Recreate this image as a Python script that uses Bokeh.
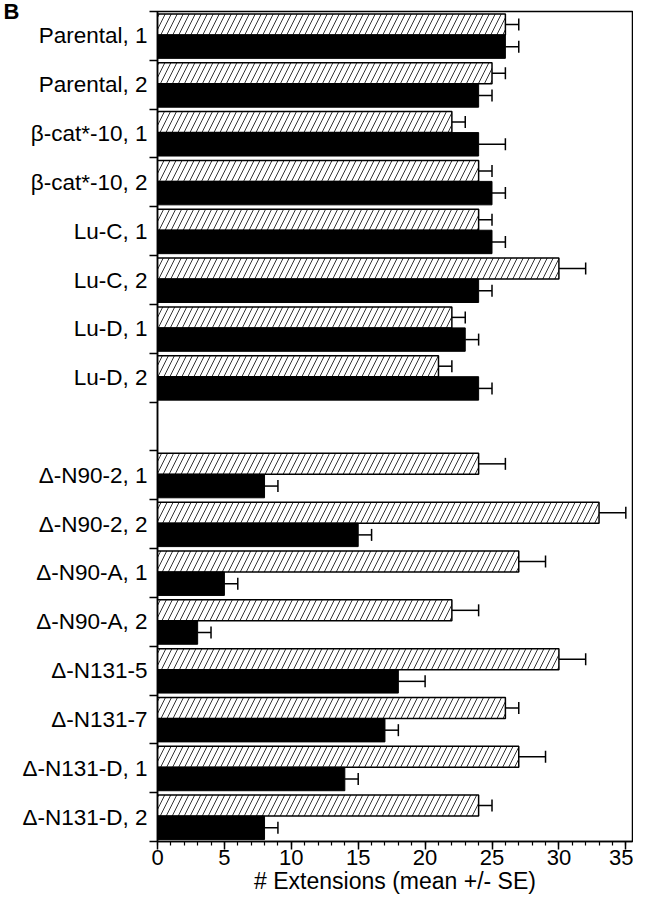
from bokeh.plotting import figure
from bokeh.models import Range1d, FixedTicker, Whisker, ColumnDataSource, TeeHead
from bokeh.embed import file_html
from bokeh.resources import INLINE

# ---- data ----
labels = ["Parental, 1", "Parental, 2", "β-cat*-10, 1", "β-cat*-10, 2",
          "Lu-C, 1", "Lu-C, 2", "Lu-D, 1", "Lu-D, 2",
          "Δ-N90-2, 1", "Δ-N90-2, 2", "Δ-N90-A, 1", "Δ-N90-A, 2",
          "Δ-N131-5", "Δ-N131-7", "Δ-N131-D, 1", "Δ-N131-D, 2"]
hatched_mean = [26, 25, 22, 24, 24, 30, 22, 21, 24, 33, 27, 22, 30, 26, 27, 24]
hatched_se   = [1, 1, 1, 1, 1, 2, 1, 1, 2, 2, 2, 2, 2, 1, 2, 1]
black_mean   = [26, 24, 24, 25, 25, 24, 23, 24, 8, 15, 5, 3, 18, 17, 14, 8]
black_se     = [1, 1, 2, 1, 1, 1, 1, 1, 1, 1, 1, 1, 2, 1, 1, 1]
x_ticks = [0, 5, 10, 15, 20, 25, 30, 35]
x_title = "# Extensions (mean +/- SE)"
panel_letter = "B"

# slot index (one empty slot between the two groups)
slots = [i if i < 8 else i + 1 for i in range(len(labels))]
n_slots = len(labels) + 1
X_END = 35.5

FONT = "Liberation Sans"

p = figure(width=633, height=896, output_backend="svg", toolbar_location=None,
           x_range=Range1d(0, X_END), y_range=Range1d(n_slots - 0.5, -0.5),
           min_border_left=154, min_border_top=11, min_border_right=1,
           min_border_bottom=48)
p.xgrid.visible = False
p.ygrid.visible = False
p.outline_line_color = "black"
p.outline_line_width = 1.5
p.background_fill_color = "white"
p.border_fill_color = "white"

hs = ColumnDataSource(dict(
    y=[s - 0.235 for s in slots], right=hatched_mean,
    up=[m + e for m, e in zip(hatched_mean, hatched_se)]))
bs = ColumnDataSource(dict(
    y=[s + 0.22 for s in slots], right=black_mean,
    up=[m + e for m, e in zip(black_mean, black_se)]))

p.hbar(y="y", left=0, right="right", height=0.43, source=hs,
       fill_color="white", line_color="black", line_width=1.5,
       hatch_pattern="/", hatch_scale=12, hatch_weight=0.8, hatch_color="black")
p.hbar(y="y", left=0, right="right", height=0.48, source=bs,
       fill_color="black", line_color="black", line_width=1)

for src in (hs, bs):
    p.add_layout(Whisker(source=src, base="y", lower="right", upper="up",
                         dimension="width", line_color="black", line_width=1.5,
                         lower_head=None,
                         upper_head=TeeHead(size=12, line_color="black", line_width=1.5)))

# y axis
p.yaxis.ticker = FixedTicker(ticks=slots,
                             minor_ticks=[b - 0.5 for b in range(n_slots + 1)])
p.yaxis.major_label_overrides = {s: l for s, l in zip(slots, labels)}
p.yaxis.major_tick_out = 0
p.yaxis.major_tick_in = 0
p.yaxis.minor_tick_out = 8
p.yaxis.minor_tick_in = 0
p.yaxis.minor_tick_line_width = 1.5
p.yaxis.axis_line_width = 1.5
p.yaxis.major_label_standoff = 2
p.yaxis.major_label_text_font = FONT
p.yaxis.major_label_text_font_size = "22.5px"
p.yaxis.major_label_text_color = "black"
# panel letter placed as the (horizontal) y-axis label at the top end
p.yaxis.axis_label = panel_letter
p.yaxis.axis_label_orientation = "horizontal"
p.yaxis.axis_label_align = "start"
p.yaxis.axis_label_standoff = 0
p.yaxis.axis_label_text_font = FONT
p.yaxis.axis_label_text_font_size = "22px"
p.yaxis.axis_label_text_font_style = "bold"
p.yaxis.axis_label_text_color = "black"

# x axis
p.xaxis.ticker = FixedTicker(ticks=x_ticks, minor_ticks=list(range(0, 36)))
p.xaxis.major_tick_out = 8
p.xaxis.major_tick_in = 0
p.xaxis.minor_tick_out = 4
p.xaxis.minor_tick_in = 0
p.xaxis.major_tick_line_width = 1.5
p.xaxis.minor_tick_line_width = 1.2
p.xaxis.axis_line_width = 1.5
p.xaxis.major_label_standoff = 0
p.xaxis.major_label_text_font = FONT
p.xaxis.major_label_text_font_size = "22px"
p.xaxis.major_label_text_color = "black"
p.xaxis.axis_label = x_title
p.xaxis.axis_label_text_font = FONT
p.xaxis.axis_label_text_font_size = "23px"
p.xaxis.axis_label_text_font_style = "normal"
p.xaxis.axis_label_text_color = "black"
p.xaxis.axis_label_standoff = 0

open("out.html", "w").write(file_html(p, INLINE))
